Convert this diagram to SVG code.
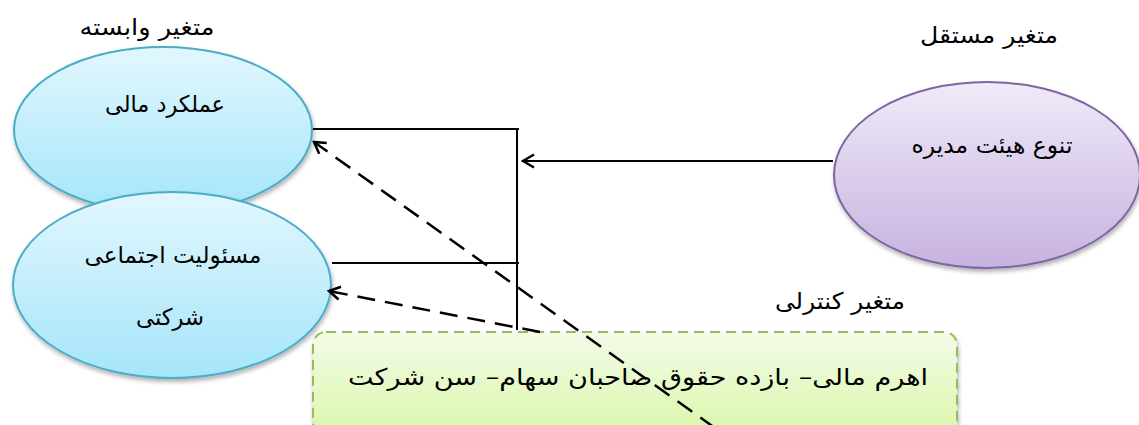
<svg xmlns="http://www.w3.org/2000/svg" width="1139" height="425" viewBox="0 0 1139 425">
<style>
.t{font-family:"DejaVu Sans",sans-serif;font-size:23px;fill:#000;direction:rtl;text-anchor:middle;}
.ln{stroke:#000;stroke-width:2;fill:none;}
.ds{stroke:#000;stroke-width:2.5;fill:none;stroke-dasharray:18,10;}
.blue{fill:url(#gb);stroke:#4bacc6;stroke-width:2;filter:url(#sh);}
</style>
<defs>
<linearGradient id="gb" x1="0" y1="0" x2="0" y2="1"><stop offset="0" stop-color="#e2f7fe"/><stop offset="1" stop-color="#a5e5fa"/></linearGradient>
<linearGradient id="gp" x1="0" y1="0" x2="0" y2="1"><stop offset="0" stop-color="#f0eaf8"/><stop offset="1" stop-color="#c6b2df"/></linearGradient>
<linearGradient id="gg" x1="0" y1="0" x2="0" y2="1"><stop offset="0" stop-color="#f3fbe8"/><stop offset="1" stop-color="#d9f7a6"/></linearGradient>
<filter id="sh" x="-10%" y="-10%" width="125%" height="130%"><feDropShadow dx="1" dy="3" stdDeviation="2" flood-color="#000" flood-opacity="0.3"/></filter>
<marker id="ar" markerWidth="16" markerHeight="16" refX="14" refY="8" orient="auto" markerUnits="userSpaceOnUse"><path d="M3,1.5 L14,8 L3,14.5" fill="none" stroke="#000" stroke-width="2.5"/></marker>
</defs>
<text class="t" x="147" y="35" textLength="135" lengthAdjust="spacingAndGlyphs">متغیر وابسته</text>
<text class="t" x="989" y="43" textLength="138" lengthAdjust="spacingAndGlyphs">متغیر مستقل</text>
<text class="t" x="840" y="309" textLength="130" lengthAdjust="spacingAndGlyphs">متغیر کنترلی</text>
<g id="node-financial">
<ellipse class="blue" cx="163" cy="130" rx="149" ry="83"/>
<text class="t" x="165" y="112" textLength="120" lengthAdjust="spacingAndGlyphs">عملکرد مالی</text>
</g>
<g id="node-csr">
<ellipse class="blue" cx="172" cy="285" rx="159" ry="93"/>
<text class="t" x="173" y="263" textLength="177" lengthAdjust="spacingAndGlyphs">مسئولیت اجتماعی</text>
<text class="t" x="170" y="325" textLength="68" lengthAdjust="spacingAndGlyphs">شرکتی</text>
</g>
<g id="node-board">
<ellipse cx="987" cy="175" rx="153" ry="93" fill="url(#gp)" stroke="#8064a2" stroke-width="2" filter="url(#sh)"/>
<text class="t" x="992" y="153" textLength="161" lengthAdjust="spacingAndGlyphs">تنوع هیئت مدیره</text>
</g>
<g id="node-control">
<rect x="313" y="332" width="644" height="110" rx="13" fill="url(#gg)" stroke="#9bbb59" stroke-width="2" stroke-dasharray="10,6" filter="url(#sh)"/>
<text class="t" x="638" y="385" textLength="580" lengthAdjust="spacingAndGlyphs">اهرم مالی– بازده حقوق صاحبان سهام– سن شرکت</text>
</g>
<g id="connectors">
<line class="ln" x1="313" y1="129" x2="519" y2="129"/>
<line class="ln" x1="332" y1="263" x2="519" y2="263"/>
<line class="ln" x1="517" y1="130" x2="517" y2="330"/>
<line class="ln" x1="833" y1="161" x2="523" y2="161" marker-end="url(#ar)"/>
<line class="ds" x1="715" y1="428" x2="314" y2="142" marker-end="url(#ar)"/>
<line class="ds" x1="540" y1="332" x2="329" y2="291" marker-end="url(#ar)"/>
</g>
</svg>
